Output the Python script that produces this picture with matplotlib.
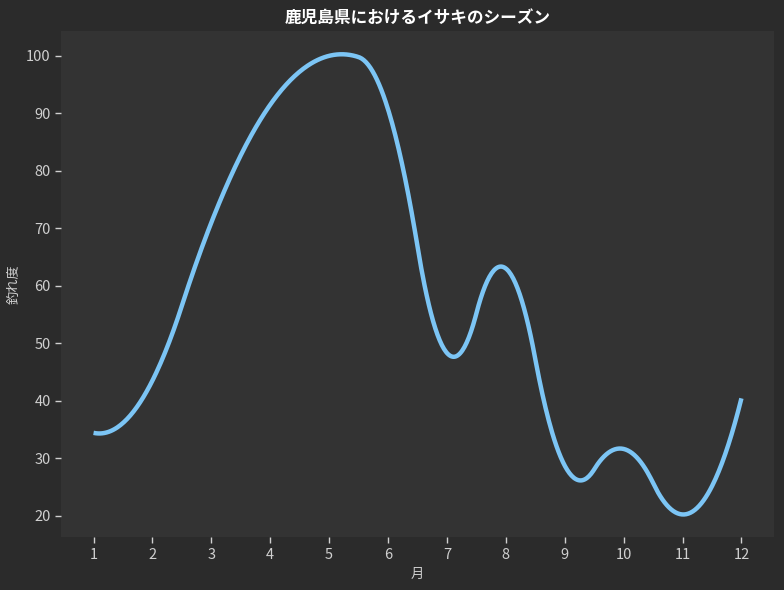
import numpy as np
import matplotlib
matplotlib.use("Agg")
import matplotlib.pyplot as plt
from matplotlib.ticker import MultipleLocator

plt.rcParams["font.family"] = ["Noto Sans CJK JP", "DejaVu Sans"]

# Data
months = np.arange(1, 13)
catch_rate = [34.4, 43.5, 71.0, 91.5, 100.0, 90.7, 48.3, 63.0, 28.7, 31.6, 20.2, 40.4]

title = "鹿児島県におけるイサキのシーズン"
xlabel = "月"
ylabel = "釣れ度"


def bspline_basis(t, k, xs):
    # Cox-de Boor recursion, returns (len(xs), len(t)-k-1)
    xs = np.asarray(xs, float)
    nb = len(t) - 1
    B = np.zeros((len(xs), nb))
    for j in range(nb):
        if t[j] < t[j + 1]:
            B[:, j] = (xs >= t[j]) & (xs < t[j + 1])
    last = np.searchsorted(t, t[-1]) - 1
    B[xs == t[-1], last] = 1.0
    for d in range(1, k + 1):
        Bn = np.zeros((len(xs), nb - d))
        for j in range(nb - d):
            a = t[j + d] - t[j]
            c = t[j + d + 1] - t[j + 1]
            if a > 0:
                Bn[:, j] += (xs - t[j]) / a * B[:, j]
            if c > 0:
                Bn[:, j] += (t[j + d + 1] - xs) / c * B[:, j + 1]
        B = Bn
    return B


def quad_spline(x, y, xs):
    # quadratic interpolating spline, knots at inner midpoints
    x = np.asarray(x, float)
    mids = (x[1:] + x[:-1]) / 2
    t = np.r_[[x[0]] * 3, mids[1:-1], [x[-1]] * 3]
    coef = np.linalg.solve(bspline_basis(t, 2, x), np.asarray(y, float))
    return bspline_basis(t, 2, xs) @ coef


def main():
    fig = plt.figure(figsize=(7.84, 5.9), dpi=100, facecolor="#2b2b2b")
    ax = fig.add_axes([0.078, 0.089, 0.909, 0.858])
    ax.set_facecolor("#333333")

    xs = np.linspace(months[0], months[-1], 600)
    ax.plot(xs, quad_spline(months, catch_rate, xs), color="#7cc5f5", linewidth=3.2,
            solid_capstyle="butt")

    ax.set_xticks(months)
    ax.yaxis.set_major_locator(MultipleLocator(10))
    for s in ax.spines.values():
        s.set_visible(False)
    ax.tick_params(colors="#d0d0d0", labelsize=10.5, length=4, width=1)

    ax.set_title(title, color="white", fontsize=12, fontweight="bold", pad=6)
    ax.set_xlabel(xlabel, color="#d0d0d0", fontsize=9.5)
    ax.set_ylabel(ylabel, color="#d0d0d0", fontsize=9.5)

    fig.savefig("out.png", facecolor=fig.get_facecolor())


if __name__ == "__main__":
    main()
